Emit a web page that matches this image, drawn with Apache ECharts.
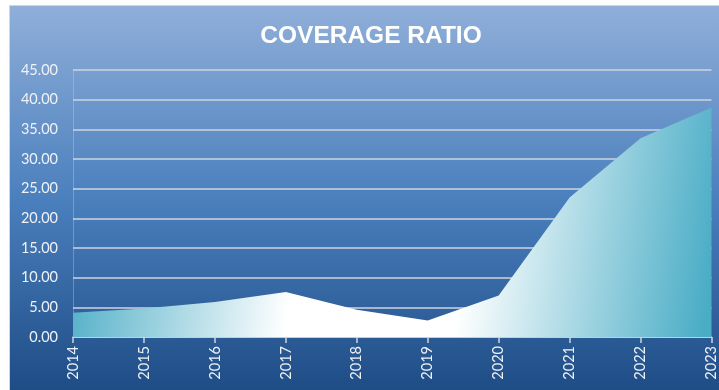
<!DOCTYPE html>
<html>
<head>
<meta charset="utf-8">
<script src="https://cdn.jsdelivr.net/npm/echarts@6/dist/echarts.min.js"></script>
<style>
  html, body { margin: 0; padding: 0; background: #ffffff; }
  #chart { width: 719px; height: 390px; }
</style>
</head>
<body>
<div id="chart"></div>
<script>
// Coverage ratio by year
const years = ['2014', '2015', '2016', '2017', '2018', '2019', '2020', '2021', '2022', '2023'];
const coverageRatio = [4.1, 4.8, 5.9, 7.6, 4.6, 2.8, 7.0, 23.5, 33.5, 38.7];
const yTicks = { min: 0, max: 45, step: 5 };

const chart = echarts.init(document.getElementById('chart'), null, { renderer: 'canvas' });

const labelFont = 'Lato, "Open Sans", sans-serif';

const option = {
  animation: false,
  backgroundColor: '#ffffff',
  graphic: [{
    type: 'rect',
    z: -10,
    silent: true,
    shape: { x: 9.5, y: 5.5, width: 712, height: 390 },
    style: {
      fill: new echarts.graphic.LinearGradient(0, 0, 0, 1, [
        { offset: 0, color: '#90afd9' },
        { offset: 0.5, color: '#4a7fbd' },
        { offset: 1, color: '#1d4b84' }
      ]),
      stroke: '#d4d4d4',
      lineWidth: 1
    }
  }],
  title: {
    text: 'COVERAGE RATIO',
    left: 370.5,
    textAlign: 'center',
    top: 19,
    textStyle: {
      color: '#ffffff',
      fontFamily: 'Liberation Sans, Arial, sans-serif',
      fontWeight: 'bold',
      fontSize: 24.5
    }
  },
  grid: { left: 73, right: 6, top: 70, bottom: 53, containLabel: false },
  xAxis: {
    type: 'category',
    data: years,
    boundaryGap: false,
    axisLine: { show: true, lineStyle: { color: '#d0d5dc', width: 1.5 } },
    axisTick: { show: true, alignWithLabel: true, length: 6, lineStyle: { color: '#d0d5dc', width: 1.5 } },
    axisLabel: {
      rotate: 90,
      color: '#eef2f8',
      fontFamily: labelFont,
      fontSize: 14.5,
      margin: 9,
      interval: 0
    },
    splitLine: { show: false }
  },
  yAxis: {
    type: 'value',
    min: yTicks.min,
    max: yTicks.max,
    interval: yTicks.step,
    axisLine: { show: true, lineStyle: { color: 'rgba(200,215,235,0.35)', width: 1 } },
    axisTick: { show: false },
    axisLabel: {
      color: '#eef2f8',
      fontFamily: labelFont,
      fontSize: 14.5,
      margin: 15,
      formatter: v => v.toFixed(2)
    },
    splitLine: { show: true, lineStyle: { color: '#cfd5de', width: 1.5 } }
  },
  series: [{
    type: 'line',
    data: coverageRatio,
    symbol: 'none',
    smooth: false,
    lineStyle: { width: 0 },
    areaStyle: {
      opacity: 1,
      color: new echarts.graphic.LinearGradient(0, 0.3, 1, 0.7, [
        { offset: 0, color: '#4aacc5' },
        { offset: 0.36, color: '#ffffff' },
        { offset: 0.62, color: '#ffffff' },
        { offset: 1, color: '#4aadc6' }
      ])
    },
    z: 3
  }]
};

chart.setOption(option);

// keep the title's centre where the panel layout puts it
const titleCentre = 366;
chart.setOption({ title: { left: titleCentre } });
</script>
</body>
</html>
